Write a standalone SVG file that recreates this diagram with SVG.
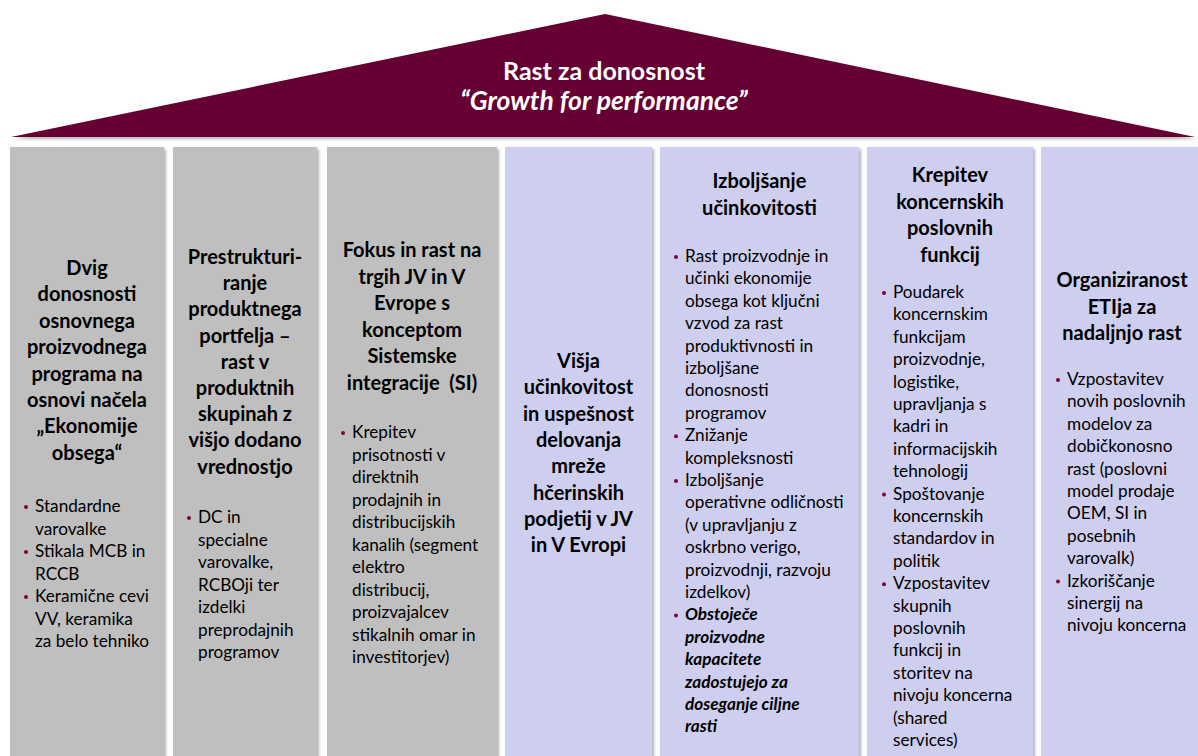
<svg xmlns="http://www.w3.org/2000/svg" width="1198" height="756" viewBox="0 0 1198 756">
<defs>
<filter id="sh" x="-5%" y="-5%" width="115%" height="115%">
<feDropShadow dx="2" dy="2" stdDeviation="1.5" flood-color="#000" flood-opacity="0.3"/>
</filter>
</defs>
<style>
.gray{fill:#BFBFBF;filter:url(#sh)}
.lav{fill:#CECEEE;filter:url(#sh)}
.roof{fill:#660033;filter:url(#sh)}
.t{font-family:Lato,"Liberation Sans",sans-serif;font-weight:bold;font-size:20px;fill:#000;text-anchor:middle}
.b{font-family:Lato,"Liberation Sans",sans-serif;font-size:17.2px;fill:#000}
.bi{font-weight:bold;font-style:italic}
.dot{fill:#800040}
.rt{font-family:Lato,"Liberation Sans",sans-serif;font-weight:bold;font-size:25px;fill:#fff;text-anchor:middle}
.rti{font-style:italic;font-size:26.5px}
</style>
<rect width="1198" height="756" fill="#fff"/>
<g id="roof">
<polygon class="roof" points="11,137 605,14 1195,137"/>
<text class="rt" x="604" y="80">Rast za donosnost</text>
<text class="rt rti" x="604" y="110">“Growth for performance”</text>
</g>
<g id="connectors"/>
<g id="col1">
<rect class="gray" x="10" y="147" width="154" height="615"/>
<text class="t"><tspan x="87" y="275">Dvig</tspan><tspan x="87" y="301.4">donosnosti</tspan><tspan x="87" y="327.8">osnovnega</tspan><tspan x="87" y="354.2">proizvodnega</tspan><tspan x="87" y="380.6">programa na</tspan><tspan x="87" y="407">osnovi načela</tspan><tspan x="87" y="433.4">„Ekonomije</tspan><tspan x="87" y="459.8">obsega“</tspan></text>
<circle class="dot" cx="26" cy="507" r="2"/><circle class="dot" cx="26" cy="552" r="2"/><circle class="dot" cx="26" cy="597" r="2"/>
<text class="b"><tspan x="35" y="512">Standardne</tspan><tspan x="35" y="534.5">varovalke</tspan><tspan x="35" y="557">Stikala MCB in</tspan><tspan x="35" y="579.5">RCCB</tspan><tspan x="35" y="602">Keramične cevi</tspan><tspan x="35" y="624.5">VV, keramika</tspan><tspan x="35" y="647">za belo tehniko</tspan></text>
</g>
<g id="col2">
<rect class="gray" x="173" y="147" width="144" height="615"/>
<text class="t"><tspan x="245" y="264">Prestrukturi-</tspan><tspan x="245" y="290.2">ranje</tspan><tspan x="245" y="316.4">produktnega</tspan><tspan x="245" y="342.6">portfelja –</tspan><tspan x="245" y="368.8">rast v</tspan><tspan x="245" y="395">produktnih</tspan><tspan x="245" y="421.2">skupinah z</tspan><tspan x="245" y="447.4">višjo dodano</tspan><tspan x="245" y="473.6">vrednostjo</tspan></text>
<circle class="dot" cx="189" cy="518" r="2"/>
<text class="b"><tspan x="198" y="523">DC in</tspan><tspan x="198" y="545.5">specialne</tspan><tspan x="198" y="568">varovalke,</tspan><tspan x="198" y="590.5">RCBOji ter</tspan><tspan x="198" y="613">izdelki</tspan><tspan x="198" y="635.5">preprodajnih</tspan><tspan x="198" y="658">programov</tspan></text>
</g>
<g id="col3">
<rect class="gray" x="327" y="147" width="170" height="615"/>
<text class="t"><tspan x="412" y="257">Fokus in rast na</tspan><tspan x="412" y="283.6">trgih JV in V</tspan><tspan x="412" y="310.2">Evrope s</tspan><tspan x="412" y="336.8">konceptom</tspan><tspan x="412" y="363.4">Sistemske</tspan><tspan x="412" y="390" xml:space="preserve">integracije  (SI)</tspan></text>
<circle class="dot" cx="343" cy="433" r="2"/>
<text class="b"><tspan x="352" y="438">Krepitev</tspan><tspan x="352" y="460.5">prisotnosti v</tspan><tspan x="352" y="483">direktnih</tspan><tspan x="352" y="505.5">prodajnih in</tspan><tspan x="352" y="528">distribucijskih</tspan><tspan x="352" y="550.5">kanalih (segment</tspan><tspan x="352" y="573">elektro</tspan><tspan x="352" y="595.5">distribucij,</tspan><tspan x="352" y="618">proizvajalcev</tspan><tspan x="352" y="640.5">stikalnih omar in</tspan><tspan x="352" y="663">investitorjev)</tspan></text>
</g>
<g id="col4">
<rect class="lav" x="505" y="147" width="147" height="615"/>
<text class="t"><tspan x="578.5" y="368">Višja</tspan><tspan x="578.5" y="394.3">učinkovitost</tspan><tspan x="578.5" y="420.6">in uspešnost</tspan><tspan x="578.5" y="446.9">delovanja</tspan><tspan x="578.5" y="473.2">mreže</tspan><tspan x="578.5" y="499.5">hčerinskih</tspan><tspan x="578.5" y="525.8">podjetij v JV</tspan><tspan x="578.5" y="552.1">in V Evropi</tspan></text>
</g>
<g id="col5">
<rect class="lav" x="660" y="147" width="199" height="615"/>
<text class="t"><tspan x="759.5" y="188">Izboljšanje</tspan><tspan x="759.5" y="215">učinkovitosti</tspan></text>
<circle class="dot" cx="676" cy="257" r="2"/><circle class="dot" cx="676" cy="436.2" r="2"/><circle class="dot" cx="676" cy="481" r="2"/><circle class="dot" cx="676" cy="615.4" r="2"/>
<text class="b"><tspan x="685" y="262">Rast proizvodnje in</tspan><tspan x="685" y="284.4">učinki ekonomije</tspan><tspan x="685" y="306.8">obsega kot ključni</tspan><tspan x="685" y="329.2">vzvod za rast</tspan><tspan x="685" y="351.6">produktivnosti in</tspan><tspan x="685" y="374">izboljšane</tspan><tspan x="685" y="396.4">donosnosti</tspan><tspan x="685" y="418.8">programov</tspan><tspan x="685" y="441.2">Znižanje</tspan><tspan x="685" y="463.6">kompleksnosti</tspan><tspan x="685" y="486">Izboljšanje</tspan><tspan x="685" y="508.4">operativne odličnosti</tspan><tspan x="685" y="530.8">(v upravljanju z</tspan><tspan x="685" y="553.2">oskrbno verigo,</tspan><tspan x="685" y="575.6">proizvodnji, razvoju</tspan><tspan x="685" y="598">izdelkov)</tspan></text>
<text class="b bi"><tspan x="685" y="620.4">Obstoječe</tspan><tspan x="685" y="642.8">proizvodne</tspan><tspan x="685" y="665.2">kapacitete</tspan><tspan x="685" y="687.6">zadostujejo za</tspan><tspan x="685" y="710">doseganje ciljne</tspan><tspan x="685" y="732.4">rasti</tspan></text>
</g>
<g id="col6">
<rect class="lav" x="867" y="147" width="166" height="615"/>
<text class="t"><tspan x="950" y="182">Krepitev</tspan><tspan x="950" y="208.6">koncernskih</tspan><tspan x="950" y="235.2">poslovnih</tspan><tspan x="950" y="261.8">funkcij</tspan></text>
<circle class="dot" cx="884" cy="293" r="2"/><circle class="dot" cx="884" cy="494.6" r="2"/><circle class="dot" cx="884" cy="584.2" r="2"/>
<text class="b"><tspan x="893" y="298">Poudarek</tspan><tspan x="893" y="320.4">koncernskim</tspan><tspan x="893" y="342.8">funkcijam</tspan><tspan x="893" y="365.2">proizvodnje,</tspan><tspan x="893" y="387.6">logistike,</tspan><tspan x="893" y="410">upravljanja s</tspan><tspan x="893" y="432.4">kadri in</tspan><tspan x="893" y="454.8">informacijskih</tspan><tspan x="893" y="477.2">tehnologij</tspan><tspan x="893" y="499.6">Spoštovanje</tspan><tspan x="893" y="522">koncernskih</tspan><tspan x="893" y="544.4">standardov in</tspan><tspan x="893" y="566.8">politik</tspan><tspan x="893" y="589.2">Vzpostavitev</tspan><tspan x="893" y="611.6">skupnih</tspan><tspan x="893" y="634">poslovnih</tspan><tspan x="893" y="656.4">funkcij in</tspan><tspan x="893" y="678.8">storitev na</tspan><tspan x="893" y="701.2">nivoju koncerna</tspan><tspan x="893" y="723.6">(shared</tspan><tspan x="893" y="746">services)</tspan></text>
</g>
<g id="col7">
<rect class="lav" x="1041" y="147" width="170" height="615"/>
<text class="t"><tspan x="1122" y="287">Organiziranost</tspan><tspan x="1122" y="313.5">ETIja za</tspan><tspan x="1122" y="340">nadaljnjo rast</tspan></text>
<circle class="dot" cx="1058" cy="380" r="2"/><circle class="dot" cx="1058" cy="581.6" r="2"/>
<text class="b"><tspan x="1067" y="385">Vzpostavitev</tspan><tspan x="1067" y="407.4">novih poslovnih</tspan><tspan x="1067" y="429.8">modelov za</tspan><tspan x="1067" y="452.2">dobičkonosno</tspan><tspan x="1067" y="474.6">rast (poslovni</tspan><tspan x="1067" y="497">model prodaje</tspan><tspan x="1067" y="519.4">OEM, SI in</tspan><tspan x="1067" y="541.8">posebnih</tspan><tspan x="1067" y="564.2">varovalk)</tspan><tspan x="1067" y="586.6">Izkoriščanje</tspan><tspan x="1067" y="609">sinergij na</tspan><tspan x="1067" y="631.4">nivoju koncerna</tspan></text>
</g>
</svg>
